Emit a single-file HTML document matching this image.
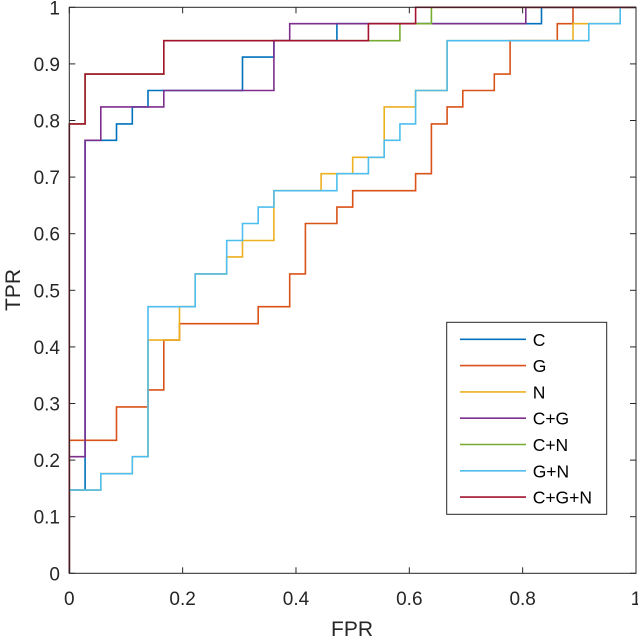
<!DOCTYPE html>
<html><head><meta charset="utf-8"><style>
body{margin:0;background:#fff;}
svg{display:block;font-family:"Liberation Sans",Arial,sans-serif;}
</style></head><body>
<svg id="chart" width="638" height="637" viewBox="0 0 638 637" xmlns="http://www.w3.org/2000/svg">
<g id="series"></g>
<g id="axes"></g>
<g id="legend"></g>
</svg>
<script>
const xTicks=[0,0.2,0.4,0.6,0.8,1];
const xTickLabels=["0","0.2","0.4","0.6","0.8","1"];
const yTicks=[0,0.1,0.2,0.3,0.4,0.5,0.6,0.7,0.8,0.9,1];
const yTickLabels=["0","0.1","0.2","0.3","0.4","0.5","0.6","0.7","0.8","0.9","1"];
const seriesNames=["C","G","N","C+G","C+N","G+N","C+G+N"];
const seriesColors=["#0072BD","#D95319","#EDB120","#7E2F8E","#77AC30","#4DBEEE","#A2142F"];
const fprC=[0,0,0.0278,0.0278,0.0833,0.0833,0.1111,0.1111,0.1389,0.1389,0.3056,0.3056,0.3611,0.3611,0.4722,0.4722,0.8333,0.8333,1];
const tprC=[0,0.147,0.147,0.765,0.765,0.794,0.794,0.824,0.824,0.853,0.853,0.912,0.912,0.941,0.941,0.971,0.971,1,1];
const fprG=[0,0,0.0833,0.0833,0.1389,0.1389,0.1667,0.1667,0.1944,0.1944,0.3333,0.3333,0.3889,0.3889,0.4167,0.4167,0.4722,0.4722,0.5,0.5,0.6111,0.6111,0.6389,0.6389,0.6667,0.6667,0.6944,0.6944,0.75,0.75,0.7778,0.7778,0.8611,0.8611,0.8889,0.8889,1];
const tprG=[0,0.235,0.235,0.294,0.294,0.324,0.324,0.412,0.412,0.441,0.441,0.471,0.471,0.529,0.529,0.618,0.618,0.647,0.647,0.676,0.676,0.706,0.706,0.794,0.794,0.824,0.824,0.853,0.853,0.882,0.882,0.941,0.941,0.971,0.971,1,1];
const fprN=[0,0,0.0556,0.0556,0.1111,0.1111,0.1389,0.1389,0.1944,0.1944,0.2222,0.2222,0.2778,0.2778,0.3056,0.3056,0.3611,0.3611,0.4444,0.4444,0.5,0.5,0.5556,0.5556,0.6111,0.6111,0.6667,0.6667,0.8889,0.8889,0.9722,0.9722,1];
const tprN=[0,0.147,0.147,0.176,0.176,0.206,0.206,0.412,0.412,0.471,0.471,0.529,0.529,0.559,0.559,0.588,0.588,0.676,0.676,0.706,0.706,0.735,0.735,0.824,0.824,0.853,0.853,0.941,0.941,0.971,0.971,1,1];
const fprCG=[0,0,0.0278,0.0278,0.0556,0.0556,0.1667,0.1667,0.3611,0.3611,0.3889,0.3889,0.8056,0.8056,1];
const tprCG=[0,0.206,0.206,0.765,0.765,0.824,0.824,0.853,0.853,0.941,0.941,0.971,0.971,1,1];
const fprCN=[0,0,0.0278,0.0278,0.1667,0.1667,0.5833,0.5833,0.6389,0.6389,1];
const tprCN=[0,0.794,0.794,0.882,0.882,0.941,0.941,0.971,0.971,1,1];
const fprGN=[0,0,0.0556,0.0556,0.1111,0.1111,0.1389,0.1389,0.2222,0.2222,0.2778,0.2778,0.3056,0.3056,0.3333,0.3333,0.3611,0.3611,0.4722,0.4722,0.5278,0.5278,0.5556,0.5556,0.5833,0.5833,0.6111,0.6111,0.6667,0.6667,0.9167,0.9167,0.9722,0.9722,1];
const tprGN=[0,0.147,0.147,0.176,0.176,0.206,0.206,0.471,0.471,0.529,0.529,0.588,0.588,0.618,0.618,0.647,0.647,0.676,0.676,0.706,0.706,0.735,0.735,0.765,0.765,0.794,0.794,0.853,0.853,0.941,0.941,0.971,0.971,1,1];
const fprCGN=[0,0,0.0278,0.0278,0.1667,0.1667,0.5278,0.5278,0.6111,0.6111,1];
const tprCGN=[0,0.794,0.794,0.882,0.882,0.941,0.941,0.971,0.971,1,1];

const NS="http://www.w3.org/2000/svg";
const X0=69.3,X1=636,Y0=573.3,Y1=7.3;
function xs(v){return X0+v*(X1-X0);}
function ys(v){return Y0-v*(Y0-Y1);}
function mk(tag,attrs,parent){const e=document.createElementNS(NS,tag);for(const k in attrs)e.setAttribute(k,attrs[k]);parent.appendChild(e);return e;}
const sg=document.getElementById('series');
const allF=[fprC,fprG,fprN,fprCG,fprCN,fprGN,fprCGN];
const allT=[tprC,tprG,tprN,tprCG,tprCN,tprGN,tprCGN];
allF.forEach((f,i)=>{
  const pts=f.map((v,j)=>xs(v).toFixed(1)+','+ys(allT[i][j]).toFixed(1)).join(' ');
  const p=mk('polyline',{points:pts,fill:'none',stroke:seriesColors[i],'stroke-width':'1.6'},sg);
  
  
});
const ax=document.getElementById('axes');
const box=mk('rect',{x:X0,y:Y1,width:X1-X0,height:Y0-Y1,fill:'none',stroke:'#262626','stroke-width':'1'},ax);


xTicks.forEach((v,i)=>{
  const x=xs(v);
  mk('line',{x1:x,y1:Y0,x2:x,y2:Y0-6,stroke:'#262626'},ax);
  mk('line',{x1:x,y1:Y1,x2:x,y2:Y1+6,stroke:'#262626'},ax);
  const t=mk('text',{x:x,y:605,'text-anchor':'middle','font-size':'19',fill:'#262626'},ax);
  t.textContent=xTickLabels[i];
  
  
});
yTicks.forEach((v,i)=>{
  const y=ys(v);
  mk('line',{x1:X0,y1:y,x2:X0+6,y2:y,stroke:'#262626'},ax);
  mk('line',{x1:X1,y1:y,x2:X1-6,y2:y,stroke:'#262626'},ax);
  const t=mk('text',{x:60,y:y+7,'text-anchor':'end','font-size':'19',fill:'#262626'},ax);
  t.textContent=yTickLabels[i];
  
  
});
const xt=mk('text',{x:352,y:636,'text-anchor':'middle','font-size':'21',fill:'#262626'},ax);
xt.textContent='FPR';


const yt=mk('text',{x:0,y:0,'text-anchor':'middle','font-size':'21',fill:'#262626',transform:'translate(20,290) rotate(-90)'},ax);
yt.textContent='TPR';


const lg=document.getElementById('legend');
const lb=mk('rect',{x:446.7,y:322.3,width:160,height:192,fill:'#fff',stroke:'#262626','stroke-width':'1'},lg);


seriesNames.forEach((n,i)=>{
  const y=339.3+i*26.3;
  const g=mk('g',{},lg);
  
  
  mk('line',{x1:460,y1:y,x2:526,y2:y,stroke:seriesColors[i],'stroke-width':'1.6'},g);
  const t=mk('text',{x:532.7,y:y+6.5,'font-size':'17.5',fill:'#000'},g);
  t.textContent=n;
});
</script>
</body></html>
